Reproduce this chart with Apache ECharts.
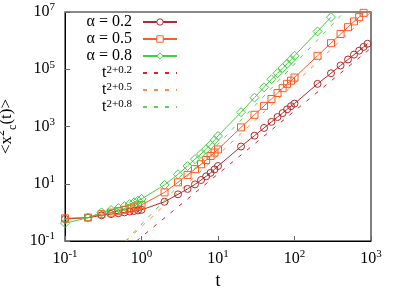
<!DOCTYPE html>
<html>
<head>
    <meta charset="utf-8">
    <script src="https://cdn.jsdelivr.net/npm/echarts@6/dist/echarts.min.js"></script>
    <style>
        html, body { margin: 0; padding: 0; background: #fff; }
        #container { width: 415px; height: 291px; }
    </style>
</head>
<body>
<div id="container"></div>
<script>
    // times t
    let tVals = [0.1, 0.2, 0.3, 0.4, 0.5, 0.6, 0.7, 0.8, 0.9, 1,
        2, 3, 4, 5, 6, 7, 8, 9, 10,
        20, 30, 40, 50, 60, 70, 80, 90, 100,
        200, 300, 400, 500, 600, 700, 800, 900];
    // <x_c^2(t)> (points above 1e7 are out of frame)
    let msd02 = [0.59, 0.65, 0.79, 0.87, 0.93, 1.0, 1.07, 1.12, 1.17, 1.23,
        2.34, 4.27, 6.6, 9.5, 13.5, 18.2, 24, 31.6, 41.7,
        200, 479, 891, 1450, 2140, 2950, 3980, 5130, 6310,
        30900, 72400, 135000, 219000, 324000, 447000, 603000, 776000];
    let msd05 = [0.62, 0.66, 0.87, 0.98, 1.10, 1.23, 1.35, 1.48, 1.62, 1.82,
        5.0, 11.2, 20.4, 32.4, 47.9, 67.6, 93, 123, 158,
        933, 2570, 5250, 9120, 14800, 21900, 30900, 39800, 51300,
        295000, 813000, 1.70e6, 2.95e6, 4.68e6, 6.61e6, 9.33e6];
    let msd08 = [0.42, 0.65, 1.0, 1.20, 1.41, 1.66, 1.95, 2.24, 2.57, 2.95,
        9.1, 21.4, 41.7, 72.4, 110, 162, 229, 331, 468,
        3160, 10200, 23400, 44700, 72400, 110000, 155000, 214000, 295000,
        2.09e6, 6.61e6];
    // guide lines t^(2+alpha), ends
    let guide02 = [[0.86, 0.1], [1000, 5.5e5]];
    let guide05 = [[0.63, 0.1], [1000, 1e7]];
    let guide08 = [[0.62, 0.1], [447, 1e7]];
    let xTicks = [0.1, 1, 10, 100, 1000];
    let yTicks = [0.1, 10, 1000, 1e5, 1e7];
    let seriesNames = ['α = 0.2', 'α = 0.5', 'α = 0.8', 't^2+0.2', 't^2+0.5', 't^2+0.8'];
    let dataColors = ['#b22a2a', '#ff5a1f', '#3fcf3f'];

    function pairs(ys) {
        return ys.map(function (y, i) { return [tVals[i], y]; });
    }
    function powLabel(v) {
        let e = Math.round(Math.log10(v));
        return '{b|10}{s|' + e + '}';
    }
    let labRich = {
        b: { fontFamily: 'Liberation Serif', fontSize: 16, lineHeight: 20, color: '#000' },
        s: { fontFamily: 'Liberation Serif', fontSize: 11, lineHeight: 11, verticalAlign: 'top', color: '#000' }
    };

    let dom = document.getElementById("container");
    let myChart = echarts.init(dom, null, { renderer: 'canvas' });

    function dataSeries(name, data, color, symbol, size) {
        return {
            name: name, type: 'line', data: pairs(data),
            symbol: symbol, symbolSize: size,
            lineStyle: { color: color, width: 1 },
            itemStyle: { color: 'transparent', borderColor: color, borderWidth: 1 },
            z: 3
        };
    }
    function guideSeries(name, data, color) {
        return {
            name: name, type: 'line', data: data,
            symbol: 'none',
            lineStyle: { color: color, width: 1, type: [4, 7] },
            itemStyle: { color: color },
            z: 2
        };
    }

    // legend entries: hollow marks for data, only the dashed line for guides
    let legendData = seriesNames.map(function (n, i) {
        if (i < 3) return { name: n, itemStyle: { color: '#fff', borderColor: dataColors[i], borderWidth: 1 } };
        return { name: n, itemStyle: { color: 'transparent', borderWidth: 0, opacity: 0 } };
    });

    let option = {
        animation: false,
        grid: { left: 65, right: 44, top: 12, bottom: 50, outerBoundsMode: 'none', containLabel: false,
            show: true, borderColor: '#000', borderWidth: 1 },
        legend: {
            right: 237, top: 14, orient: 'vertical', align: 'right',
            padding: 0, itemWidth: 34, itemHeight: 8, itemGap: 1,
            data: legendData,
            textStyle: { fontFamily: 'Liberation Serif', fontSize: 16, lineHeight: 16, color: '#000', padding: [0, 6, 0, 0],
                rich: {
                    b: { fontFamily: 'Liberation Serif', fontSize: 16, lineHeight: 16, color: '#000' },
                    s: { fontFamily: 'Liberation Serif', fontSize: 11, lineHeight: 9, verticalAlign: 'top', color: '#000' }
                }
            },
            formatter: function (name) {
                if (name.indexOf('t^') === 0) {
                    return '{b|t}{s|' + name.slice(2) + '}';
                }
                return name;
            }
        },
        xAxis: [{
            type: 'log', logBase: 10, min: 0.1, max: 1000,
            name: 't', nameLocation: 'middle', nameGap: 26,
            nameTextStyle: { fontFamily: 'Liberation Serif', fontSize: 18, color: '#000' },
            axisLine: { lineStyle: { color: '#000', width: 1 } },
            axisTick: { inside: true, length: 5, lineStyle: { color: '#666' }, customValues: xTicks },
            axisLabel: { margin: 8, formatter: powLabel, rich: labRich, customValues: xTicks },
            splitLine: { show: false }
        }, {
            type: 'log', logBase: 10, min: 0.1, max: 1000, position: 'top',
            axisLine: { lineStyle: { color: '#888', width: 2 } },
            axisTick: { show: false }, axisLabel: { show: false }, splitLine: { show: false }
        }],
        yAxis: {
            type: 'log', logBase: 10, min: 0.1, max: 1e7,
            name: '{b|<x}{s|2}{c|c}{b|(t)>}', nameLocation: 'middle', nameGap: 42, nameRotate: 90,
            nameTextStyle: {
                rich: {
                    b: { fontFamily: 'Liberation Serif', fontSize: 17, lineHeight: 24, color: '#000' },
                    s: { fontFamily: 'Liberation Serif', fontSize: 12, lineHeight: 12, verticalAlign: 'top', color: '#000' },
                    c: { fontFamily: 'Liberation Serif', fontSize: 12, lineHeight: 12, verticalAlign: 'bottom', color: '#000' }
                }
            },
            axisLine: { show: true, lineStyle: { color: '#000', width: 1 } },
            axisTick: { inside: true, length: 5, lineStyle: { color: '#666' }, customValues: yTicks },
            axisLabel: { margin: 10, formatter: powLabel, rich: labRich, customValues: yTicks },
            splitLine: { show: false }
        },
        series: [
            dataSeries(seriesNames[0], msd02, dataColors[0], 'circle', 7),
            dataSeries(seriesNames[1], msd05, dataColors[1], 'rect', 7),
            dataSeries(seriesNames[2], msd08, dataColors[2], 'diamond', 9),
            guideSeries(seriesNames[3], guide02, '#cc2929'),
            guideSeries(seriesNames[4], guide05, '#ff8a4a'),
            guideSeries(seriesNames[5], guide08, '#5ad05a')
        ]
    };
    myChart.setOption(option);
</script>
</body>
</html>
